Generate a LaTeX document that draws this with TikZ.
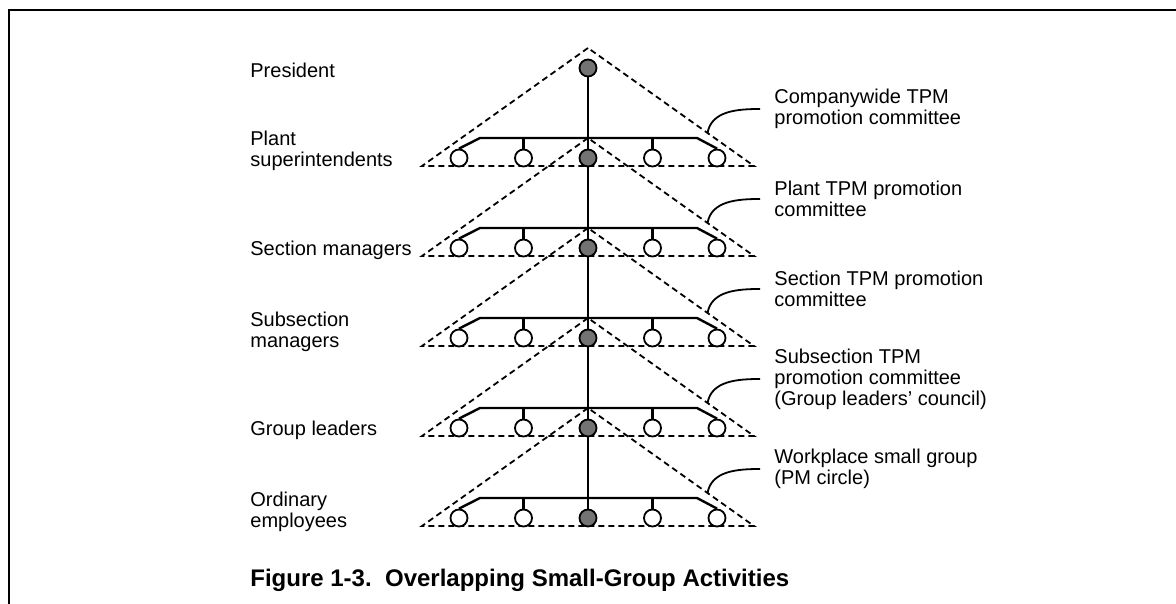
\documentclass[tikz,border=0pt]{standalone}
\usepackage{fontspec}
\setmainfont{Liberation Sans}
\usetikzlibrary{backgrounds}
\tikzset{
  frame/.style={line width=1.3pt},
  tri/.style={line width=0.9pt, dash pattern=on 3pt off 2pt},
  bar/.style={line width=1.2pt},
  man/.style={circle, draw, line width=0.9pt, fill=white, minimum size=8.5pt, inner sep=0pt},
  boss/.style={man, fill=black!55},
  lead/.style={line width=0.9pt},
  side/.style={anchor=west, align=left, inner sep=0pt, font=\fontsize{10}{10.5}\selectfont},
  lbl/.style={anchor=west, align=left, inner xsep=7pt, inner ysep=0pt, font=\fontsize{10}{10.5}\selectfont}
}
\begin{document}
\begin{tikzpicture}[x=0.5pt, y=-0.5pt]
    \useasboundingbox (0,0) rectangle (1176,604);
    \draw[frame] (9,604) -- (9,10) -- (1176,10);

    % president
    \node[boss] (pres) at (588,68) {};

    % plant superintendents
    \begin{scope}[shift={(588,158)}]
    \draw[tri] (0,-110) -- (-166,8) -- (166,8) -- cycle;
    \node[man] (p1) at (-129,0) {};
    \node[man] (p2) at (-64.5,0) {};
    \node[boss] (p3) at (0,0) {};
    \node[man] (p4) at (64.5,0) {};
    \node[man] (p5) at (129,0) {};
    \draw[bar] (p1.north) -- (-108,-20) -- (109,-20) -- (p5.north);
    \draw[bar] (p2.north) -- (-64.5,-20);
    \draw[bar] (p4.north) -- (64.5,-20);
    \coordinate (cwk) at (119.5,-25);
    \node[lbl] (cw) at (172,-49) {Companywide TPM\\promotion committee};
    \draw[lead] (cwk) to[out=80, in=180] (cw.west);
    \end{scope}

    % section managers
    \begin{scope}[shift={(588,248)}]
    \draw[tri] (0,-110) -- (-166,8) -- (166,8) -- cycle;
    \node[man] (s1) at (-129,0) {};
    \node[man] (s2) at (-64.5,0) {};
    \node[boss] (s3) at (0,0) {};
    \node[man] (s4) at (64.5,0) {};
    \node[man] (s5) at (129,0) {};
    \draw[bar] (s1.north) -- (-108,-20) -- (109,-20) -- (s5.north);
    \draw[bar] (s2.north) -- (-64.5,-20);
    \draw[bar] (s4.north) -- (64.5,-20);
    \coordinate (plk) at (119.5,-25);
    \node[lbl] (pl) at (172,-49) {Plant TPM promotion\\committee};
    \draw[lead] (plk) to[out=80, in=180] (pl.west);
    \end{scope}

    % subsection managers
    \begin{scope}[shift={(588,338)}]
    \draw[tri] (0,-110) -- (-166,8) -- (166,8) -- cycle;
    \node[man] (u1) at (-129,0) {};
    \node[man] (u2) at (-64.5,0) {};
    \node[boss] (u3) at (0,0) {};
    \node[man] (u4) at (64.5,0) {};
    \node[man] (u5) at (129,0) {};
    \draw[bar] (u1.north) -- (-108,-20) -- (109,-20) -- (u5.north);
    \draw[bar] (u2.north) -- (-64.5,-20);
    \draw[bar] (u4.north) -- (64.5,-20);
    \coordinate (sek) at (119.5,-25);
    \node[lbl] (se) at (172,-49) {Section TPM promotion\\committee};
    \draw[lead] (sek) to[out=80, in=180] (se.west);
    \end{scope}

    % group leaders
    \begin{scope}[shift={(588,428)}]
    \draw[tri] (0,-110) -- (-166,8) -- (166,8) -- cycle;
    \node[man] (g1) at (-129,0) {};
    \node[man] (g2) at (-64.5,0) {};
    \node[boss] (g3) at (0,0) {};
    \node[man] (g4) at (64.5,0) {};
    \node[man] (g5) at (129,0) {};
    \draw[bar] (g1.north) -- (-108,-20) -- (109,-20) -- (g5.north);
    \draw[bar] (g2.north) -- (-64.5,-20);
    \draw[bar] (g4.north) -- (64.5,-20);
    \coordinate (susk) at (119.5,-25);
    \node[lbl] (sus) at (172,-49) {Subsection TPM\\promotion committee\\(Group leaders' council)};
    \draw[lead] (susk) to[out=80, in=180] (sus.west);
    \end{scope}

    % ordinary employees
    \begin{scope}[shift={(588,518)}]
    \draw[tri] (0,-110) -- (-166,8) -- (166,8) -- cycle;
    \node[man] (o1) at (-129,0) {};
    \node[man] (o2) at (-64.5,0) {};
    \node[boss] (o3) at (0,0) {};
    \node[man] (o4) at (64.5,0) {};
    \node[man] (o5) at (129,0) {};
    \draw[bar] (o1.north) -- (-108,-20) -- (109,-20) -- (o5.north);
    \draw[bar] (o2.north) -- (-64.5,-20);
    \draw[bar] (o4.north) -- (64.5,-20);
    \coordinate (wpk) at (119.5,-25);
    \node[lbl] (wp) at (172,-49) {Workplace small group\\(PM circle)};
    \draw[lead] (wpk) to[out=80, in=180] (wp.west);
    \end{scope}

    % the line down the middle
    \begin{scope}[on background layer]
    \draw[bar] (pres) -- (o3);
    \end{scope}

    % left side
    \node[side] (presl) at (250,70) {President};
    \node[side] (pll) at (250,151) {Plant\\superintendents};
    \node[side] (sel) at (250,250) {Section managers};
    \node[side] (sul) at (250,332) {Subsection\\managers};
    \node[side] (gl) at (250,430) {Group leaders};
    \node[side] (ol) at (250,512) {Ordinary\\employees};

    \node[anchor=base west, inner sep=0pt, font=\bfseries\fontsize{12}{14}\selectfont] (cap) at (250,586) {Figure 1-3.\ \ Overlapping Small-Group Activities};
\end{tikzpicture}
\end{document}
